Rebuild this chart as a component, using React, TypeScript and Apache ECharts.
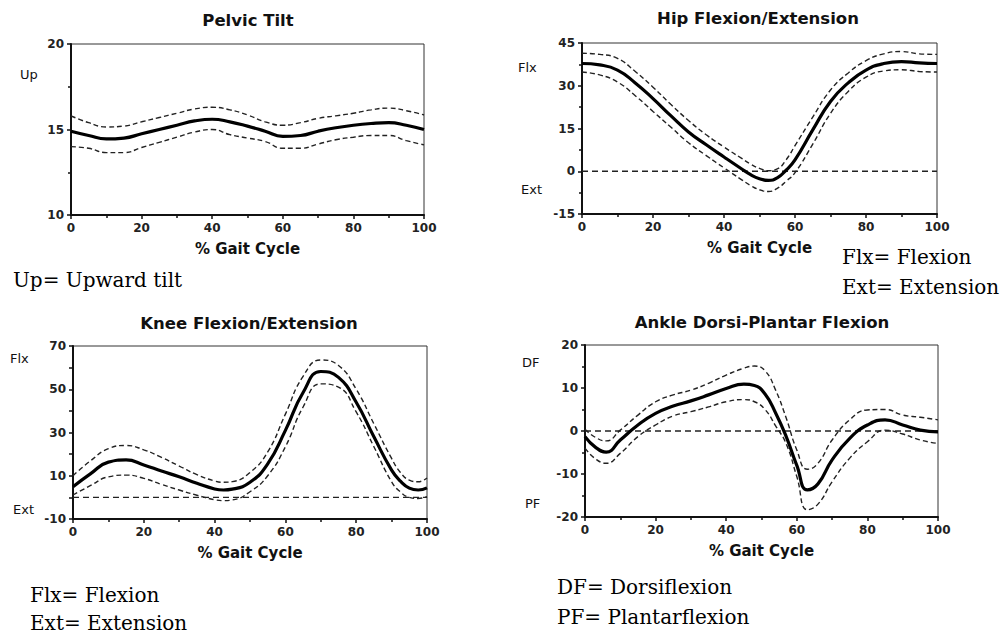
import React, { useEffect, useRef } from "react";
import * as echarts from "echarts";

// ---------- data ----------
const X5 = [0, 5, 10, 15, 20, 25, 30, 35, 40, 45, 50, 55, 60, 65, 70, 75, 80, 85, 90, 95, 100];

const pelvicMean = [14.9, 14.65, 14.45, 14.5, 14.75, 15.0, 15.25, 15.5, 15.6, 15.45, 15.2, 14.9, 14.6, 14.65, 14.9, 15.1, 15.25, 15.35, 15.4, 15.25, 15.0];
const pelvicUpper = [15.8, 15.4, 15.15, 15.2, 15.45, 15.7, 15.95, 16.2, 16.3, 16.15, 15.85, 15.45, 15.25, 15.4, 15.65, 15.8, 15.95, 16.15, 16.25, 16.1, 15.85];
const pelvicLower = [14.0, 13.9, 13.65, 13.65, 13.95, 14.25, 14.55, 14.85, 15.0, 14.7, 14.5, 14.3, 13.9, 13.9, 14.15, 14.4, 14.55, 14.65, 14.65, 14.35, 14.1];

const hipX = [0, 5, 10, 15, 20, 25, 30, 35, 40, 45, 47.5, 50, 52.5, 55, 57.5, 60, 65, 70, 75, 80, 85, 90, 95, 100];
const hipMean = [37.8, 37.3, 35.5, 31, 25.5, 19.5, 13.8, 9.3, 5, 0.8, -1.2, -2.6, -3.2, -2.3, 0.4, 4, 14.5, 24.5, 31, 35.5, 37.8, 38.5, 38, 37.8];
const hipUpper = [41.4, 41, 39.6, 35, 29.5, 23.5, 17.8, 12.8, 8.5, 4.5, 2.5, 1, 0.2, 0.8, 4, 9, 19, 28.5, 34.5, 38.8, 41.2, 42, 41.2, 41];
const hipLower = [34.8, 33.8, 31.3, 26.5, 21, 15.5, 10, 5.5, 1.2, -3, -5, -6.5, -7.1, -6, -3.5, -0.5, 9.5, 20.3, 28, 33, 35.2, 35.6, 35, 34.8];

const kneeX = [0, 5, 10, 15, 20, 25, 30, 35, 40, 42.5, 45, 50, 55, 60, 65, 70, 75, 80, 85, 90, 92.5, 95, 97.5, 100];
const kneeMean = [4.9, 11, 16.3, 17.3, 15, 12.2, 9.5, 6.5, 3.9, 3.4, 3.8, 7, 15.5, 31, 48.5, 58.2, 55.5, 44, 28, 12.6, 7.5, 4.3, 3.4, 4.4];
const kneeUpper = [10, 17, 22.5, 24, 22, 18.5, 14.5, 10.5, 7.6, 7, 7.3, 11.5, 21, 38.5, 56, 63.5, 61, 50, 34, 18, 11.5, 8, 7.2, 9];
const kneeLower = [1.1, 5.5, 9.5, 10.3, 8.8, 6, 3.4, 1, -1.1, -1.5, -1.2, 2.6, 10, 23.4, 41.8, 52.5, 51, 39.5, 23.4, 7.2, 2.5, 0, -0.5, 0.3];

const ankleX = [0, 3, 6, 10, 15, 20, 25, 30, 35, 40, 45, 48, 51, 54, 57, 60, 63, 66, 70, 75, 80, 85, 90, 95, 100];
const ankleMean = [-1.3, -3.8, -4.9, -2.1, 1.4, 4.1, 5.8, 7, 8.4, 9.9, 10.9, 10.6, 8.6, 4.2, -1.3, -8, -13.7, -12.3, -6.7, -1.7, 1.4, 2.6, 1.4, 0.2, -0.2];
const ankleUpper = [0.4, -1.5, -2.3, 0.2, 3.7, 6.8, 8.4, 9.5, 11.1, 13, 14.6, 15.1, 14, 9.5, 3, -4.4, -8.9, -7.5, -2.1, 2.6, 4.9, 5.0, 3.7, 3.2, 2.6];
const ankleLower = [-4, -6.5, -7.5, -5.2, -1.3, 1.4, 3.5, 4.5, 5.6, 6.8, 7.3, 6.8, 5, 1.2, -3, -10.6, -18.3, -17, -11.8, -6.3, -2.5, 0.2, -0.7, -2.1, -2.9];

const zeroLineX = [0, 100];
const zeroLineY = [0, 0];

const titles = ["Pelvic Tilt", "Hip Flexion/Extension", "Knee Flexion/Extension", "Ankle Dorsi-Plantar Flexion"];
const xName = "% Gait Cycle";
const xTicks = { min: 0, max: 100, interval: 20 };
const yAxes = [
  { min: 10, max: 20, interval: 5, minor: true },
  { min: -15, max: 45, interval: 15, minor: true },
  { min: -10, max: 70, interval: 10, minor: false },
  { min: -20, max: 20, interval: 10, minor: true },
];
const zeroLine = [false, true, true, true];

const sideLabels = [
  { text: "Up", x: 20, y: 74 },
  { text: "Flx", x: 518, y: 67 },
  { text: "Ext", x: 521, y: 189 },
  { text: "Flx", x: 10, y: 358 },
  { text: "Ext", x: 13, y: 509 },
  { text: "DF", x: 522, y: 362 },
  { text: "PF", x: 525, y: 503 },
];
const notes = [
  { text: "Up= Upward tilt", x: 13, y: 280 },
  { text: "Flx= Flexion", x: 842, y: 257 },
  { text: "Ext= Extension", x: 842, y: 287 },
  { text: "Flx= Flexion", x: 30, y: 595 },
  { text: "Ext= Extension", x: 30, y: 623 },
  { text: "DF= Dorsiflexion", x: 557, y: 587 },
  { text: "PF= Plantarflexion", x: 557, y: 617 },
];

// ---------- layout ----------
const grids = [
  { left: 71, top: 44, width: 353, height: 171 },
  { left: 582, top: 43, width: 355, height: 171 },
  { left: 73, top: 346, width: 354, height: 173 },
  { left: 585, top: 345, width: 353, height: 172 },
];
const titlePos = [
  { x: 248, y: 20 },
  { x: 758, y: 18 },
  { x: 249, y: 323 },
  { x: 762, y: 322 },
];

const zip = (xs: number[], ys: number[]) => xs.map((x, i) => [x, ys[i]]);

export default function App() {
  const ref = useRef<HTMLDivElement>(null);
  useEffect(() => {
    if (!ref.current) return;
    const chart = echarts.init(ref.current, undefined, { renderer: "svg" });
    const sans = "DejaVu Sans";
    const panels = [
      { xs: X5, m: pelvicMean, u: pelvicUpper, l: pelvicLower },
      { xs: hipX, m: hipMean, u: hipUpper, l: hipLower },
      { xs: kneeX, m: kneeMean, u: kneeUpper, l: kneeLower },
      { xs: ankleX, m: ankleMean, u: ankleUpper, l: ankleLower },
    ];
    const xAxis = grids.map((_, i) => ({
      type: "value",
      gridIndex: i,
      min: xTicks.min,
      max: xTicks.max,
      interval: xTicks.interval,
      name: xName,
      nameLocation: "middle",
      nameGap: 26,
      nameTextStyle: { fontFamily: sans, fontWeight: "bold", fontSize: 15, color: "#111" },
      axisLine: { show: true, onZero: false, lineStyle: { color: "#111", width: 2 } },
      axisTick: { show: true, length: 4, lineStyle: { color: "#111", width: 1.5 } },
      minorTick: { show: true, splitNumber: 2, length: 3, lineStyle: { color: "#111", width: 1.5 } },
      axisLabel: { margin: 7, fontFamily: sans, fontWeight: "bold", fontSize: 12, color: "#222" },
      splitLine: { show: false },
    }));
    const yAxis = yAxes.map((a, i) => ({
      type: "value",
      gridIndex: i,
      min: a.min,
      max: a.max,
      interval: a.interval,
      axisLine: { show: true, onZero: false, lineStyle: { color: "#111", width: 2 } },
      axisTick: { show: true, length: 4, lineStyle: { color: "#111", width: 1.5 } },
      minorTick: { show: a.minor, splitNumber: 2, length: 3, lineStyle: { color: "#111", width: 1.5 } },
      axisLabel: {
        margin: 7,
        fontFamily: sans,
        fontWeight: "bold",
        fontSize: 12,
        color: "#222",
        formatter: (v: number) => (i === 2 && (v + 10) % 20 !== 0 ? "" : String(v)),
      },
      splitLine: { show: false },
    }));
    const series: any[] = [];
    panels.forEach((p, i) => {
      const dashed = { color: "#222", width: 1.4, type: [5, 3] };
      if (zeroLine[i]) {
        series.push({
          type: "line", xAxisIndex: i, yAxisIndex: i, data: zip(zeroLineX, zeroLineY),
          showSymbol: false, silent: true, lineStyle: { color: "#222", width: 1.4, type: [6, 4] },
        });
      }
      series.push({
        type: "line", xAxisIndex: i, yAxisIndex: i, data: zip(p.xs, p.u),
        smooth: 0.5, showSymbol: false, lineStyle: dashed, silent: true,
      });
      series.push({
        type: "line", xAxisIndex: i, yAxisIndex: i, data: zip(p.xs, p.l),
        smooth: 0.5, showSymbol: false, lineStyle: dashed, silent: true,
      });
      series.push({
        type: "line", xAxisIndex: i, yAxisIndex: i, data: zip(p.xs, p.m),
        smooth: 0.5, showSymbol: false, lineStyle: { color: "#000", width: 3.2 }, silent: true,
      });
    });
    const graphic: any[] = [];
    titles.forEach((t, i) => {
      graphic.push({
        type: "text", x: titlePos[i].x, y: titlePos[i].y,
        style: { text: t, fontFamily: sans, fontWeight: "bold", fontSize: 16.5, fill: "#111", align: "center", verticalAlign: "middle" },
      });
    });
    sideLabels.forEach((s) => {
      graphic.push({
        type: "text", x: s.x, y: s.y,
        style: { text: s.text, fontFamily: sans, fontSize: 13, fill: "#111", align: "left", verticalAlign: "middle" },
      });
    });
    notes.forEach((n) => {
      graphic.push({
        type: "text", x: n.x, y: n.y,
        style: { text: n.text, fontFamily: "DejaVu Serif", fontSize: 20, fill: "#000", align: "left", verticalAlign: "middle" },
      });
    });
    chart.setOption({
      animation: false,
      backgroundColor: "#fff",
      grid: grids.map((g) => ({ ...g, show: true, borderColor: "#333", borderWidth: 1, backgroundColor: "transparent" })),
      xAxis,
      yAxis,
      series,
      graphic,
    });
    return () => chart.dispose();
  }, []);
  return <div ref={ref} style={{ position: "absolute", left: 0, top: 0, width: 1008, height: 635 }} />;
}
